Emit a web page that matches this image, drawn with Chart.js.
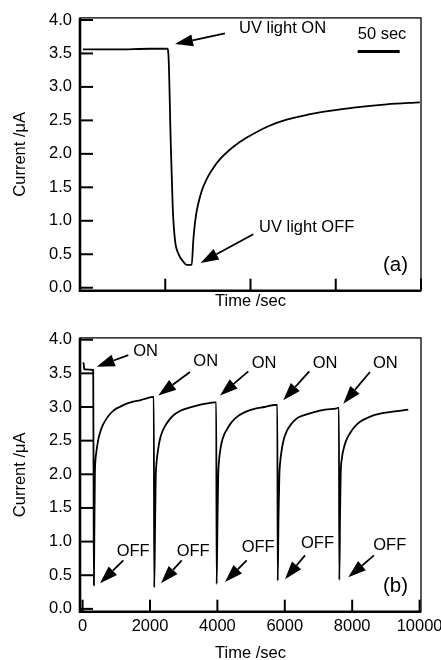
<!DOCTYPE html>
<html>
<head>
<meta charset="utf-8">
<script src="https://cdn.jsdelivr.net/npm/chart.js@4.4.0/dist/chart.umd.min.js"></script>
<style>
html, body { margin: 0; padding: 0; background: #fff; overflow: hidden; }
#box-a { position: absolute; left: 0; top: 0; width: 441px; height: 320px; }
#box-b { position: absolute; left: 0; top: 320px; width: 441px; height: 343px; }
</style>
</head>
<body>
<div id="box-a"><canvas id="chart-a"></canvas></div>
<div id="box-b"><canvas id="chart-b"></canvas></div>
<script>
// (a) single UV pulse, time in sec, current in uA
var timeA = [0, 40, 80, 100.4, 102, 104.4, 106.8, 109.5, 113.5, 119.4, 123.4, 129.4,
             131.3, 133.3, 135.4, 139.3, 143.2, 149.2, 155.1, 163.1, 171, 187,
             203, 222, 242.5, 282, 322, 361.5, 401];
var currentA = [3.56, 3.56, 3.57, 3.57, 3.40, 2.19, 1.20, 0.71, 0.51, 0.39, 0.34, 0.34,
                0.71, 0.97, 1.15, 1.36, 1.51, 1.67, 1.79, 1.92, 2.02, 2.18,
                2.30, 2.42, 2.51, 2.62, 2.69, 2.74, 2.77];

// (b) repeated ON/OFF cycles
var timeB = [0, 35, 45, 315, 325,
             335, 350, 365, 380, 400, 440, 480, 530, 600, 700, 820, 950, 1100, 1309, 1500, 1703, 1900, 2098, 2112,
             2125, 2150, 2170, 2190, 2217, 2260, 2310, 2370, 2450, 2543, 2680, 2890, 3100, 3386, 3650, 3929, 3965,
             3978, 4003, 4025, 4045, 4077, 4130, 4200, 4276, 4400, 4572, 4800, 5065, 5400, 5709, 5778,
             5790, 5815, 5840, 5858, 5908, 5970, 6056, 6180, 6353, 6580, 6846, 7200, 7540, 7605,
             7618, 7640, 7659, 7690, 7737, 7820, 7935, 8080, 8232, 8500, 8825, 9200, 9665];
var currentB = [3.65, 3.65, 3.56, 3.55, 2.00,
                0.35, 1.20, 2.00, 2.20, 2.30, 2.44, 2.55, 2.64, 2.73, 2.82, 2.90, 2.96, 3.00, 3.05, 3.08, 3.10, 3.13, 3.15, 3.15,
                0.32, 1.20, 1.95, 2.15, 2.28, 2.43, 2.55, 2.64, 2.72, 2.79, 2.87, 2.94, 2.98, 3.02, 3.05, 3.07, 3.07,
                0.37, 1.30, 2.00, 2.18, 2.33, 2.48, 2.59, 2.66, 2.76, 2.85, 2.92, 2.97, 3.00, 3.03, 3.03,
                0.42, 1.40, 2.00, 2.15, 2.36, 2.52, 2.64, 2.74, 2.83, 2.88, 2.92, 2.96, 2.98, 2.99,
                0.43, 1.40, 2.01, 2.22, 2.36, 2.50, 2.61, 2.71, 2.78, 2.85, 2.90, 2.93, 2.96];

var yTicks = [0, 0.5, 1, 1.5, 2, 2.5, 3, 3.5, 4];
var xTicksB = [0, 2000, 4000, 6000, 8000, 10000];

// text labels and arrows (data coordinates)
var labelsA = [
  {text: 'UV light ON', x: 185.7, y: 3.88, align: 'left'},
  {text: 'UV light OFF', x: 209.5, y: 0.905, align: 'left'},
  {text: '50 sec', x: 356, y: 3.78, align: 'center'},
  {text: '(a)', x: 387, y: 0.34, align: 'right', big: true}
];
var arrowsA = [[169, 3.80, 109.5, 3.64], [202.7, 0.80, 140, 0.37]];
var scaleBarA = [327, 377, 3.53];

var labelsB = [
  {text: 'ON', x: 1504, y: 3.82, align: 'left'},
  {text: 'ON', x: 3285, y: 3.67, align: 'left'},
  {text: 'ON', x: 5018, y: 3.65, align: 'left'},
  {text: 'ON', x: 6828, y: 3.65, align: 'left'},
  {text: 'ON', x: 8617, y: 3.65, align: 'left'},
  {text: 'OFF', x: 1012, y: 0.86, align: 'left'},
  {text: 'OFF', x: 2792, y: 0.86, align: 'left'},
  {text: 'OFF', x: 4721, y: 0.92, align: 'left'},
  {text: 'OFF', x: 6481, y: 0.97, align: 'left'},
  {text: 'OFF', x: 8626, y: 0.94, align: 'left'},
  {text: '(b)', x: 9656, y: 0.33, align: 'right', big: true}
];
var arrowsB = [
  [1356, 3.77, 418, 3.60], [3187, 3.52, 2246, 3.17], [4917, 3.53, 4077, 3.17],
  [6727, 3.53, 5955, 3.10], [8528, 3.52, 7736, 3.05],
  [1208, 0.72, 516, 0.38], [2941, 0.72, 2326, 0.38], [4869, 0.72, 4225, 0.40],
  [6600, 0.795, 6006, 0.44], [8647, 0.795, 7884, 0.47]
];

var FONT = 'Liberation Sans, Arial, Helvetica, sans-serif';
Chart.defaults.font.family = FONT;
Chart.defaults.font.size = 16.5;
Chart.defaults.color = '#000';

function points(xs, ys) {
  return xs.map(function(x, i) { return {x: x, y: ys[i]}; });
}

// box, inward tick marks, notes and arrows
var framePlugin = {
  id: 'frame',
  afterDatasetsDraw: function(chart, args, opts) {
    var ctx = chart.ctx, a = chart.chartArea;
    var xs = chart.scales.x, ys = chart.scales.y;
    ctx.save();
    ctx.strokeStyle = '#000';
    ctx.fillStyle = '#000';
    ctx.lineWidth = 2;
    ys.ticks.forEach(function(t) {
      var y = ys.getPixelForValue(t.value);
      ctx.beginPath(); ctx.moveTo(a.left, y); ctx.lineTo(a.left + 13, y); ctx.stroke();
    });
    xs.ticks.forEach(function(t) {
      var x = xs.getPixelForValue(t.value);
      ctx.beginPath(); ctx.moveTo(x, a.bottom); ctx.lineTo(x, a.bottom - 12); ctx.stroke();
    });
    ctx.lineWidth = 1.3;
    ctx.strokeRect(a.left, a.top, a.right - a.left, a.bottom - a.top);
    ctx.lineWidth = 2.6;
    ctx.beginPath();
    ctx.moveTo(a.left, a.top); ctx.lineTo(a.left, a.bottom); ctx.lineTo(a.right, a.bottom);
    ctx.stroke();

    (opts.labels || []).forEach(function(l) {
      ctx.font = (l.big ? 20.5 : 16.5) + 'px ' + FONT;
      ctx.textAlign = l.align;
      ctx.textBaseline = 'middle';
      ctx.fillText(l.text, xs.getPixelForValue(l.x), ys.getPixelForValue(l.y));
    });
    (opts.arrows || []).forEach(function(r) {
      var x0 = xs.getPixelForValue(r[0]), y0 = ys.getPixelForValue(r[1]);
      var x1 = xs.getPixelForValue(r[2]), y1 = ys.getPixelForValue(r[3]);
      var ang = Math.atan2(y1 - y0, x1 - x0), len = 18, hw = 6;
      var bx = x1 - len * Math.cos(ang), by = y1 - len * Math.sin(ang);
      ctx.lineWidth = 1.8;
      ctx.beginPath(); ctx.moveTo(x0, y0); ctx.lineTo(bx, by); ctx.stroke();
      ctx.beginPath();
      ctx.moveTo(x1, y1);
      ctx.lineTo(bx + hw * Math.sin(ang), by - hw * Math.cos(ang));
      ctx.lineTo(bx - hw * Math.sin(ang), by + hw * Math.cos(ang));
      ctx.closePath(); ctx.fill();
    });
    if (opts.bar) {
      ctx.lineWidth = 3;
      var by2 = ys.getPixelForValue(opts.bar[2]);
      ctx.beginPath();
      ctx.moveTo(xs.getPixelForValue(opts.bar[0]), by2);
      ctx.lineTo(xs.getPixelForValue(opts.bar[1]), by2);
      ctx.stroke();
    }
    ctx.restore();
  }
};

function yAxis(min, max) {
  return {
    type: 'linear', min: min, max: max,
    afterBuildTicks: function(s) { s.ticks = yTicks.map(function(v) { return {value: v}; }); },
    ticks: {padding: 8, callback: function(v) { return v.toFixed(1); }},
    grid: {display: false, drawTicks: false},
    border: {display: false},
    title: {display: true, text: 'Current /μA', padding: {top: 10.4, bottom: 0}},
    afterFit: function(s) { s.width = 80; }
  };
}

function dataset(xs, ys) {
  return {
    data: points(xs, ys),
    showLine: true,
    borderColor: '#000',
    borderWidth: 1.8,
    pointRadius: 0,
    cubicInterpolationMode: 'monotone',
    fill: false
  };
}

var chartA = new Chart(document.getElementById('chart-a'), {
  type: 'scatter',
  data: {datasets: [dataset(timeA, currentA)]},
  options: {
    responsive: true, maintainAspectRatio: false, animation: false,
    layout: {padding: {top: 16, right: 20, left: 0, bottom: 0}},
    plugins: {
      legend: {display: false}, tooltip: {enabled: false},
      frame: {labels: labelsA, arrows: arrowsA, bar: scaleBarA}
    },
    scales: {
      x: {
        type: 'linear', min: -3.6, max: 402.4,
        ticks: {display: false, stepSize: 100, includeBounds: false},
        grid: {display: false, drawTicks: false},
        border: {display: false},
        title: {display: true, text: 'Time /sec', padding: {top: 0, bottom: 8.7}},
        afterFit: function(s) { s.height = 29.3; s.paddingLeft = 0; s.paddingRight = 0; }
      },
      y: yAxis(-0.0445, 4.031)
    }
  },
  plugins: [framePlugin]
});

var chartB = new Chart(document.getElementById('chart-b'), {
  type: 'scatter',
  data: {datasets: [dataset(timeB, currentB)]},
  options: {
    responsive: true, maintainAspectRatio: false, animation: false,
    layout: {padding: {top: 16, right: 20, left: 0, bottom: 0}},
    plugins: {
      legend: {display: false}, tooltip: {enabled: false},
      frame: {labels: labelsB, arrows: arrowsB}
    },
    scales: {
      x: {
        type: 'linear', min: -77, max: 10042,
        afterBuildTicks: function(s) { s.ticks = xTicksB.map(function(v) { return {value: v}; }); },
        ticks: {padding: 5, maxRotation: 0, autoSkip: false, callback: function(v) { return String(v); }},
        grid: {display: false, drawTicks: false},
        border: {display: false},
        title: {display: true, text: 'Time /sec', padding: {top: 0, bottom: 0}},
        afterFit: function(s) { s.height = 51.3; s.paddingLeft = 0; s.paddingRight = 0; }
      },
      y: yAxis(-0.042, 4.027)
    }
  },
  plugins: [framePlugin]
});
</script>
</body>
</html>
